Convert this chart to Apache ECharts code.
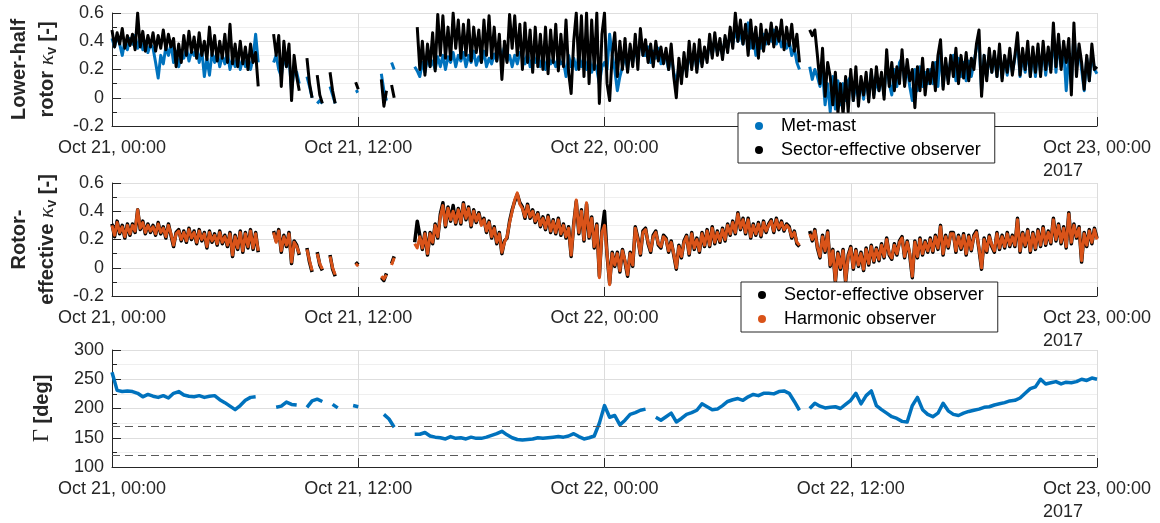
<!DOCTYPE html>
<html>
<head>
<meta charset="utf-8">
<script src="https://cdn.jsdelivr.net/npm/echarts@6/dist/echarts.min.js"></script>
<style>
html, body { margin: 0; padding: 0; background: #ffffff; }
#chart { width: 1160px; height: 523px; }
</style>
</head>
<body>
<div id="chart"></div>
<script>
// ---------------- data: one row per hour since Oct 21 00:00 (samples spread evenly in the hour) ----------------
const xTickHours = [0, 12, 24, 36, 48];
const xTickLabels = ['Oct 21, 00:00', 'Oct 21, 12:00', 'Oct 22, 00:00', 'Oct 22, 12:00', 'Oct 23, 00:00'];
const yearLabel = '2017';
const gammaLimits = [170, 120];

// Lower-half rotor kappa_v : Met-mast
const metMastLower = [
  [0.42, 0.36, 0.44, 0.38, 0.30, 0.40, 0.34, 0.42],
  [0.38, 0.44, 0.35, 0.42, 0.34, 0.40, 0.32, 0.38],
  [0.35, 0.25, 0.14, 0.30, 0.24, 0.36, 0.30, 0.38],
  [0.25, 0.33, 0.22, 0.30, 0.28, 0.35, 0.26, 0.33],
  [0.30, 0.36, 0.25, 0.34, 0.15, 0.28, 0.16, 0.32],
  [0.25, 0.33, 0.22, 0.30, 0.24, 0.32, 0.20, 0.28],
  [0.22, 0.30, 0.20, 0.28, 0.22, 0.30, 0.20, 0.28],
  [0.45, 0.25, null, null, null, null, null, 0.25],
  [0.30, 0.20, 0.15, 0.30, 0.22, 0.28, 0.05, 0.20],
  [0.18, 0.10, null, null, 0.15, 0.08, 0.00, null],
  [-0.04, -0.02, -0.04, null, null, 0.08, 0.02, -0.04],
  [null, null, null, null, null, null, null, 0.04],
  [0.05, null, null, null, null, null, null, null],
  [null, 0.17, 0.05, -0.02, null, 0.25, 0.20, null],
  [null, null, null, null, null, null, 0.22, 0.19],
  [0.15, 0.25, 0.18, 0.28, 0.22, 0.26, 0.20, 0.29],
  [0.22, 0.30, 0.20, 0.29, 0.25, 0.32, 0.22, 0.30],
  [0.26, 0.32, 0.22, 0.30, 0.25, 0.33, 0.23, 0.29],
  [0.25, 0.33, 0.22, 0.28, 0.24, 0.31, 0.26, 0.36],
  [0.28, 0.36, 0.26, 0.30, 0.22, 0.30, 0.24, 0.32],
  [0.30, 0.24, 0.32, 0.22, 0.28, 0.25, 0.31, 0.22],
  [0.28, 0.20, 0.30, 0.24, 0.27, 0.22, 0.29, 0.24],
  [0.26, 0.15, 0.30, 0.22, 0.28, 0.20, 0.30, 0.22],
  [0.28, 0.20, 0.30, 0.18, 0.25, 0.20, 0.10, 0.22],
  [0.25, 0.20, 0.45, 0.30, 0.20, 0.05, 0.15, 0.22],
  [0.30, 0.20, 0.35, 0.25, 0.33, 0.28, 0.42, 0.30],
  [0.30, 0.36, 0.25, 0.33, 0.28, 0.35, 0.24, 0.30],
  [0.28, 0.20, 0.30, 0.18, 0.10, 0.22, 0.15, 0.25],
  [0.18, 0.32, 0.22, 0.33, 0.20, 0.30, 0.24, 0.33],
  [0.28, 0.40, 0.30, 0.42, 0.32, 0.38, 0.30, 0.42],
  [0.35, 0.45, 0.38, 0.48, 0.40, 0.45, 0.38, 0.46],
  [0.53, 0.35, 0.45, 0.30, 0.42, 0.35, 0.45, 0.38],
  [0.45, 0.40, 0.48, 0.38, 0.44, 0.36, 0.42, 0.35],
  [0.40, 0.30, 0.35, 0.25, 0.20, null, null, null],
  [0.22, 0.13, 0.20, 0.15, 0.08, 0.18, -0.05, 0.10],
  [-0.10, 0.15, -0.08, 0.12, -0.05, 0.10, -0.02, 0.12],
  [0.15, -0.02, 0.10, 0.00, 0.12, -0.01, 0.14, 0.00],
  [0.18, 0.02, 0.12, 0.05, 0.15, 0.02, 0.25, 0.10],
  [0.02, 0.20, 0.08, 0.25, 0.28, 0.10, 0.22, 0.08],
  [-0.02, 0.20, 0.05, 0.22, 0.08, 0.18, 0.10, 0.20],
  [0.10, 0.25, 0.08, 0.35, 0.08, 0.25, 0.12, 0.28],
  [0.30, 0.12, 0.28, 0.15, 0.25, 0.12, 0.26, 0.15],
  [0.25, 0.35, 0.40, 0.05, 0.30, 0.15, 0.30, 0.18],
  [0.30, 0.15, 0.32, 0.14, 0.28, 0.16, 0.30, 0.18],
  [0.28, 0.40, 0.15, 0.30, 0.18, 0.35, 0.15, 0.32],
  [0.15, 0.35, 0.18, 0.35, 0.16, 0.32, 0.20, 0.45],
  [0.18, 0.40, 0.22, 0.35, 0.05, 0.30, 0.10, 0.45],
  [0.22, 0.35, 0.20, 0.05, 0.28, 0.12, 0.32, 0.20],
  [0.17]
];

// Lower-half rotor kappa_v : Sector-effective observer
const sectorLower = [
  [0.48, 0.36, 0.46, 0.38, 0.49, 0.35, 0.44, 0.37],
  [0.45, 0.34, 0.60, 0.36, 0.47, 0.33, 0.44, 0.36],
  [0.46, 0.33, 0.44, 0.35, 0.48, 0.34, 0.45, 0.36],
  [0.42, 0.22, 0.38, 0.25, 0.44, 0.30, 0.47, 0.32],
  [0.43, 0.28, 0.46, 0.30, 0.40, 0.27, 0.50, 0.30],
  [0.44, 0.26, 0.40, 0.28, 0.45, 0.25, 0.52, 0.24],
  [0.38, 0.22, 0.40, 0.24, 0.36, 0.20, 0.38, 0.25],
  [0.32, 0.08, null, null, null, null, null, 0.45],
  [0.30, 0.44, 0.08, 0.40, 0.22, 0.38, -0.02, 0.30],
  [0.15, 0.05, null, null, 0.28, 0.10, 0.00, null],
  [0.16, 0.02, -0.04, null, null, 0.18, 0.05, -0.04],
  [null, null, null, null, null, null, null, 0.11],
  [0.06, null, null, null, null, null, null, null],
  [null, 0.13, -0.06, 0.05, null, 0.09, 0.00, null],
  [null, null, null, null, null, null, null, 0.50],
  [0.20, 0.40, 0.16, 0.38, 0.22, 0.46, 0.19, 0.59],
  [0.30, 0.58, 0.28, 0.50, 0.27, 0.60, 0.35, 0.55],
  [0.28, 0.52, 0.30, 0.55, 0.26, 0.50, 0.32, 0.48],
  [0.25, 0.55, 0.30, 0.58, 0.28, 0.50, 0.26, 0.45],
  [0.13, 0.40, 0.25, 0.59, 0.35, 0.58, 0.30, 0.52],
  [0.20, 0.53, 0.25, 0.48, 0.18, 0.50, 0.22, 0.45],
  [0.20, 0.50, 0.17, 0.48, 0.25, 0.52, 0.19, 0.45],
  [0.22, 0.55, 0.18, 0.03, 0.40, 0.60, 0.20, 0.58],
  [0.15, 0.60, 0.10, 0.55, 0.20, 0.60, -0.04, 0.45],
  [0.60, 0.10, -0.02, 0.30, 0.46, 0.15, 0.40, 0.20],
  [0.42, 0.18, 0.38, 0.22, 0.45, 0.20, 0.49, 0.30],
  [0.41, 0.25, 0.38, 0.22, 0.40, 0.26, 0.36, 0.24],
  [0.35, 0.20, 0.38, 0.15, 0.00, 0.28, 0.10, 0.32],
  [0.15, 0.40, 0.20, 0.38, 0.18, 0.41, 0.22, 0.36],
  [0.25, 0.45, 0.28, 0.46, 0.30, 0.42, 0.27, 0.44],
  [0.32, 0.50, 0.35, 0.60, 0.40, 0.55, 0.38, 0.52],
  [0.30, 0.55, 0.35, 0.50, 0.28, 0.52, 0.33, 0.48],
  [0.38, 0.53, 0.36, 0.50, 0.40, 0.55, 0.34, 0.50],
  [0.37, 0.52, 0.33, 0.45, 0.25, null, null, null],
  [0.48, 0.44, 0.48, 0.30, 0.10, 0.35, 0.01, 0.25],
  [0.15, -0.05, 0.18, -0.11, 0.10, -0.12, 0.15, -0.10],
  [0.20, -0.02, 0.22, -0.06, 0.15, 0.02, 0.18, -0.03],
  [0.20, 0.00, 0.22, 0.05, 0.18, -0.01, 0.34, 0.08],
  [0.25, 0.05, 0.22, 0.10, 0.34, 0.08, 0.27, 0.12],
  [0.20, -0.07, 0.22, 0.05, 0.28, 0.02, 0.20, 0.10],
  [0.25, 0.05, 0.30, 0.41, 0.06, 0.28, 0.10, 0.30],
  [0.15, 0.35, 0.10, 0.30, 0.14, 0.32, 0.12, 0.28],
  [0.20, 0.38, 0.48, 0.01, 0.30, 0.12, 0.35, 0.18],
  [0.33, 0.15, 0.38, 0.12, 0.30, 0.18, 0.35, 0.16],
  [0.30, 0.46, 0.16, 0.35, 0.20, 0.40, 0.15, 0.36],
  [0.18, 0.38, 0.15, 0.40, 0.20, 0.36, 0.18, 0.53],
  [0.22, 0.45, 0.20, 0.40, 0.25, 0.42, 0.02, 0.53],
  [0.15, 0.38, 0.25, 0.06, 0.30, 0.12, 0.38, 0.20],
  [0.22]
];

// Rotor-effective kappa_v : Sector-effective observer
const sectorRotor = [
  [0.31, 0.22, 0.33, 0.24, 0.30, 0.21, 0.31, 0.23],
  [0.31, 0.25, 0.41, 0.27, 0.33, 0.24, 0.31, 0.25],
  [0.30, 0.23, 0.32, 0.24, 0.29, 0.21, 0.31, 0.23],
  [0.15, 0.25, 0.27, 0.19, 0.26, 0.18, 0.28, 0.20],
  [0.26, 0.17, 0.27, 0.19, 0.25, 0.14, 0.26, 0.18],
  [0.24, 0.16, 0.26, 0.17, 0.23, 0.15, 0.25, 0.08],
  [0.23, 0.13, 0.26, 0.11, 0.25, 0.14, 0.27, 0.13],
  [0.25, 0.11, null, null, null, null, null, 0.26],
  [0.19, 0.27, 0.11, 0.23, 0.15, 0.25, 0.03, 0.19],
  [0.16, 0.09, null, null, 0.14, 0.04, -0.03, null],
  [0.11, 0.02, -0.02, null, null, 0.09, -0.01, -0.06],
  [null, null, null, null, null, null, null, 0.04],
  [0.02, null, null, null, null, null, null, null],
  [null, -0.07, -0.09, -0.04, null, 0.03, 0.08, null],
  [null, null, null, null, null, null, 0.18, 0.33],
  [0.23, 0.13, 0.25, 0.09, 0.25, 0.17, 0.31, 0.21],
  [0.38, 0.46, 0.29, 0.43, 0.33, 0.44, 0.31, 0.42],
  [0.31, 0.46, 0.34, 0.43, 0.29, 0.41, 0.32, 0.39],
  [0.31, 0.35, 0.25, 0.33, 0.21, 0.29, 0.17, 0.25],
  [0.10, 0.19, 0.21, 0.33, 0.41, 0.47, 0.52, 0.46],
  [0.43, 0.35, 0.45, 0.35, 0.41, 0.32, 0.39, 0.29],
  [0.36, 0.27, 0.37, 0.25, 0.34, 0.24, 0.35, 0.23],
  [0.31, 0.21, 0.29, 0.08, 0.31, 0.47, 0.24, 0.41],
  [0.19, 0.45, 0.21, 0.36, 0.14, 0.31, -0.06, 0.26],
  [0.40, 0.09, -0.11, 0.11, 0.01, 0.11, -0.03, 0.13],
  [0.04, -0.06, 0.11, 0.01, 0.29, 0.21, 0.09, 0.26],
  [0.28, 0.17, 0.11, 0.23, 0.26, 0.16, 0.14, 0.23],
  [0.21, 0.11, 0.19, 0.09, -0.01, 0.16, 0.07, 0.19],
  [0.23, 0.09, 0.25, 0.13, 0.21, 0.11, 0.25, 0.15],
  [0.27, 0.15, 0.29, 0.17, 0.26, 0.18, 0.28, 0.19],
  [0.31, 0.23, 0.33, 0.24, 0.39, 0.27, 0.35, 0.24],
  [0.35, 0.21, 0.31, 0.23, 0.32, 0.22, 0.33, 0.25],
  [0.31, 0.34, 0.25, 0.35, 0.27, 0.33, 0.26, 0.31],
  [0.29, 0.21, 0.26, 0.17, 0.15, null, null, null],
  [0.26, 0.19, 0.27, 0.14, 0.07, 0.23, 0.11, 0.26],
  [0.01, 0.13, -0.10, 0.11, -0.01, 0.13, -0.10, 0.09],
  [0.15, -0.01, 0.13, 0.01, 0.11, -0.02, 0.14, 0.02],
  [0.16, 0.04, 0.14, 0.05, 0.17, 0.07, 0.21, 0.09],
  [0.06, 0.17, 0.09, 0.19, 0.22, 0.07, 0.19, 0.09],
  [-0.07, 0.19, 0.07, 0.21, 0.09, 0.19, 0.11, 0.21],
  [0.11, 0.23, 0.13, 0.30, 0.09, 0.23, 0.14, 0.25],
  [0.25, 0.11, 0.23, 0.13, 0.24, 0.09, 0.23, 0.12],
  [0.23, 0.26, 0.13, -0.01, 0.21, 0.11, 0.23, 0.15],
  [0.11, 0.25, 0.13, 0.23, 0.14, 0.25, 0.15, 0.23],
  [0.15, 0.35, 0.11, 0.25, 0.15, 0.27, 0.11, 0.25],
  [0.13, 0.27, 0.15, 0.29, 0.16, 0.26, 0.17, 0.35],
  [0.19, 0.31, 0.17, 0.29, 0.14, 0.39, 0.17, 0.31],
  [0.21, 0.29, 0.04, 0.25, 0.15, 0.27, 0.17, 0.28],
  [0.21]
];

// Rotor-effective kappa_v : Harmonic observer
const harmonicRotor = [
  [0.30, 0.23, 0.32, 0.25, 0.29, 0.22, 0.30, 0.24],
  [0.30, 0.26, 0.41, 0.28, 0.32, 0.25, 0.30, 0.26],
  [0.29, 0.24, 0.31, 0.25, 0.28, 0.22, 0.30, 0.24],
  [0.16, 0.24, 0.26, 0.20, 0.25, 0.19, 0.27, 0.21],
  [0.25, 0.18, 0.26, 0.20, 0.24, 0.15, 0.25, 0.19],
  [0.23, 0.17, 0.25, 0.18, 0.22, 0.16, 0.24, 0.09],
  [0.22, 0.14, 0.25, 0.12, 0.24, 0.15, 0.26, 0.14],
  [0.24, 0.12, null, null, null, null, null, 0.25],
  [0.18, 0.26, 0.12, 0.22, 0.16, 0.24, 0.04, 0.18],
  [0.15, 0.10, null, null, 0.13, 0.05, -0.02, null],
  [0.10, 0.03, -0.01, null, null, 0.08, 0.00, -0.05],
  [null, null, null, null, null, null, null, 0.03],
  [0.01, null, null, null, null, null, null, null],
  [null, -0.06, -0.08, -0.05, null, 0.02, 0.07, null],
  [null, null, null, null, null, null, 0.17, 0.14],
  [0.22, 0.14, 0.24, 0.10, 0.24, 0.18, 0.30, 0.22],
  [0.36, 0.44, 0.30, 0.42, 0.34, 0.40, 0.32, 0.41],
  [0.32, 0.45, 0.35, 0.42, 0.30, 0.40, 0.33, 0.38],
  [0.30, 0.34, 0.26, 0.32, 0.22, 0.28, 0.18, 0.24],
  [0.11, 0.18, 0.22, 0.32, 0.40, 0.48, 0.53, 0.45],
  [0.42, 0.36, 0.44, 0.36, 0.40, 0.33, 0.38, 0.30],
  [0.35, 0.28, 0.36, 0.26, 0.33, 0.25, 0.34, 0.24],
  [0.30, 0.22, 0.28, 0.09, 0.30, 0.48, 0.25, 0.40],
  [0.20, 0.46, 0.22, 0.35, 0.15, 0.30, -0.07, 0.25],
  [0.30, 0.10, -0.12, 0.10, 0.02, 0.10, -0.02, 0.12],
  [0.05, -0.05, 0.10, 0.02, 0.28, 0.20, 0.10, 0.25],
  [0.27, 0.18, 0.12, 0.22, 0.25, 0.17, 0.15, 0.22],
  [0.20, 0.12, 0.18, 0.10, 0.00, 0.15, 0.08, 0.18],
  [0.22, 0.10, 0.24, 0.14, 0.20, 0.12, 0.24, 0.16],
  [0.26, 0.16, 0.28, 0.18, 0.25, 0.19, 0.27, 0.20],
  [0.30, 0.24, 0.32, 0.25, 0.38, 0.28, 0.34, 0.25],
  [0.34, 0.22, 0.30, 0.24, 0.31, 0.23, 0.32, 0.26],
  [0.30, 0.33, 0.26, 0.34, 0.28, 0.32, 0.27, 0.30],
  [0.28, 0.22, 0.25, 0.18, 0.16, null, null, null],
  [0.24, 0.20, 0.26, 0.15, 0.08, 0.22, 0.12, 0.25],
  [0.02, 0.12, -0.09, 0.10, 0.00, 0.12, -0.09, 0.08],
  [0.14, 0.00, 0.12, 0.02, 0.10, -0.01, 0.13, 0.03],
  [0.15, 0.05, 0.13, 0.06, 0.16, 0.08, 0.20, 0.10],
  [0.07, 0.16, 0.10, 0.18, 0.21, 0.08, 0.18, 0.10],
  [-0.06, 0.18, 0.08, 0.20, 0.10, 0.18, 0.12, 0.20],
  [0.12, 0.22, 0.14, 0.29, 0.10, 0.22, 0.15, 0.24],
  [0.24, 0.12, 0.22, 0.14, 0.23, 0.10, 0.22, 0.13],
  [0.22, 0.25, 0.14, 0.00, 0.20, 0.12, 0.22, 0.16],
  [0.12, 0.24, 0.14, 0.22, 0.15, 0.24, 0.16, 0.22],
  [0.16, 0.34, 0.12, 0.24, 0.16, 0.26, 0.12, 0.24],
  [0.14, 0.26, 0.16, 0.28, 0.17, 0.25, 0.18, 0.34],
  [0.20, 0.30, 0.18, 0.28, 0.15, 0.38, 0.18, 0.30],
  [0.22, 0.28, 0.05, 0.24, 0.16, 0.26, 0.18, 0.27],
  [0.20]
];

// Gamma [deg]
const gammaDeg = [
  [262, 231, 229, 230], [229, 226, 220, 224], [221, 219, 222, 218], [226, 229, 223, 221],
  [220, 222, 219, 221], [222, 215, 210, 204], [198, 205, 214, 219], [220, null, null, null],
  [202, 204, 211, 207], [206, null, 202, 213], [216, 212, null, 207], [201, null, null, 205],
  [203, null, null, null], [null, 190, 182, 168], [null, null, null, 156], [156, 159, 153, 151],
  [150, 148, 152, 149], [150, 148, 151, 149], [149, 151, 154, 157], [161, 155, 150, 147],
  [146, 147, 148, 150], [149, 150, 151, 152], [151, 153, 157, 152], [148, 150, 153, 175],
  [205, 185, 188, 172], [180, 190, 193, 197], [199, null, 185, 180], [186, 192, 177, 183],
  [190, 193, 197, 208], [203, 198, 199, 205], [212, 215, 217, 214], [220, 224, 222, 226],
  [226, 225, 229, 230], [226, 212, 197, null], [200, 209, 204, 201], [202, 203, 200, 207],
  [214, 226, 208, 222], [230, 205, 198, 192], [186, 183, 178, 177], [205, 219, 198, 190],
  [186, 192, 209, 196], [190, 188, 192, 195], [197, 199, 202, 203], [206, 208, 210, 213],
  [214, 218, 226, 234], [237, 250, 242, 244], [246, 242, 245, 244], [246, 250, 248, 252],
  [250]
];

// ---------------- chart ----------------
const SANS = "'Liberation Sans', Arial, Helvetica, sans-serif";
const INK = '#262626';
// row r holds samples of hour r, spread evenly over that hour
const toPairs = rows => {
  const out = [];
  rows.forEach((row, h) => row.forEach((v, k) => out.push([h + k / row.length, v])));
  return out;
};

function xAxisFor(gridIndex) {
  return {
    type: 'value', gridIndex: gridIndex, min: 0, max: 48, interval: 12,
    axisLine: { show: true, onZero: false, lineStyle: { color: INK, width: 1 } },
    axisTick: { show: true, inside: true, length: 9, lineStyle: { color: INK } },
    splitLine: { show: true, lineStyle: { color: '#dcdcdc', width: 1 } },
    axisLabel: {
      show: true, margin: 11, hideOverlap: false, showMinLabel: true, showMaxLabel: true,
      formatter: function (v) {
        const i = xTickHours.indexOf(v);
        if (i < 0) return '';
        const s = '{d|' + xTickLabels[i] + '}';
        return i === xTickHours.length - 1 ? s + '\n{y|' + yearLabel + '}' : s;
      },
      rich: {
        d: { fontFamily: SANS, fontSize: 18, color: INK, lineHeight: 23 },
        y: { fontFamily: SANS, fontSize: 18, color: INK, lineHeight: 23, align: 'left' }
      }
    }
  };
}

const nameRich = {
  t: { fontFamily: SANS, fontWeight: 'bold', fontSize: 20, color: INK, lineHeight: 28 },
  k: { fontFamily: "'Liberation Serif', 'DejaVu Serif', serif", fontStyle: 'italic', fontSize: 22, color: INK, lineHeight: 28 },
  s: { fontFamily: SANS, fontWeight: 'bold', fontSize: 14, color: INK, padding: [10, 0, 0, 0] },
  g: { fontFamily: "'Liberation Serif', 'DejaVu Serif', serif", fontSize: 23, color: INK, lineHeight: 28 }
};

function yAxisFor(gridIndex, min, max, interval, name, nameGap) {
  return {
    type: 'value', gridIndex: gridIndex, min: min, max: max, interval: interval,
    name: name, nameLocation: 'middle', nameRotate: 90, nameGap: nameGap,
    nameTextStyle: { rich: nameRich },
    axisLine: { show: true, lineStyle: { color: INK, width: 1 } },
    axisTick: { show: true, inside: true, length: 9, lineStyle: { color: INK } },
    minorTick: { show: true, splitNumber: 2, length: 5, lineStyle: { color: INK } },
    splitLine: { show: true, lineStyle: { color: '#dedede', width: 1 } },
    minorSplitLine: { show: true, lineStyle: { color: '#efefef', width: 1 } },
    axisLabel: { show: true, margin: 8, fontFamily: SANS, fontSize: 18, color: INK, showMinLabel: true, showMaxLabel: true }
  };
}

function lineSeries(name, axisIndex, rows, color, width, extra) {
  return Object.assign({
    name: name, type: 'line', xAxisIndex: axisIndex, yAxisIndex: axisIndex,
    data: toPairs(rows), color: color, showSymbol: false, connectNulls: false,
    lineStyle: { width: width, color: color, join: 'round' }, itemStyle: { color: color },
    emphasis: { disabled: true }, z: 3
  }, extra || {});
}

function legendAt(left, top, names) {
  return {
    data: names, orient: 'vertical', left: left, top: top,
    icon: 'circle', itemWidth: 34, itemHeight: 8, itemGap: 4,
    padding: [3, 14, 3, 17], selectedMode: false,
    backgroundColor: '#ffffff', borderColor: INK, borderWidth: 1, borderRadius: 0,
    textStyle: { fontFamily: SANS, fontSize: 18, color: '#000000', lineHeight: 20 },
    z: 10
  };
}

const chart = echarts.init(document.getElementById('chart'), null, { renderer: 'canvas' });
chart.setOption({
  animation: false,
  backgroundColor: '#ffffff',
  grid: [
    { left: 112, top: 13, width: 985, height: 113 },
    { left: 112, top: 183, width: 985, height: 113 },
    { left: 112, top: 350, width: 985, height: 117 }
  ],
  xAxis: [xAxisFor(0), xAxisFor(1), xAxisFor(2)],
  yAxis: [
    yAxisFor(0, -0.2, 0.6, 0.2, '{t|Lower-half}\n{t|rotor }{k|κ}{s|v}{t| [-]}', 51),
    yAxisFor(1, -0.2, 0.6, 0.2, '{t|Rotor-}\n{t|effective }{k|κ}{s|v}{t| [-]}', 51),
    yAxisFor(2, 100, 300, 50, '{g|Γ}{t| [deg]}', 56)
  ],
  legend: [
    legendAt(738, 113, ['Met-mast', 'Sector-effective observer']),
    legendAt(741, 282, ['Sector-effective observer', 'Harmonic observer'])
  ],
  series: [
    lineSeries('Met-mast', 0, metMastLower, '#0072BD', 3),
    lineSeries('Sector-effective observer', 0, sectorLower, '#000000', 3),
    lineSeries('Sector-effective observer', 1, sectorRotor, '#000000', 3.5),
    lineSeries('Harmonic observer', 1, harmonicRotor, '#D95319', 3),
    lineSeries('Γ', 2, gammaDeg, '#0072BD', 3.5, {
      markLine: {
        silent: true, symbol: 'none', animation: false,
        label: { show: false },
        lineStyle: { type: [8, 5], color: '#5a5a5a', width: 1 },
        emphasis: { disabled: true },
        data: gammaLimits.map(v => ({ yAxis: v }))
      }
    })
  ]
});
</script>
</body>
</html>
